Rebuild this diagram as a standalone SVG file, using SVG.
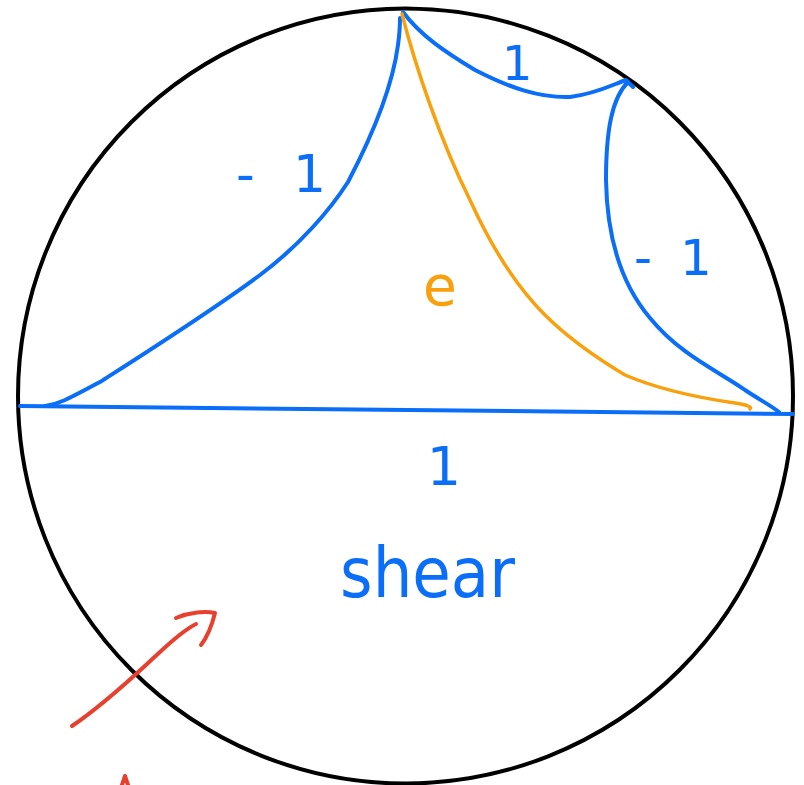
<svg xmlns="http://www.w3.org/2000/svg" width="804" height="785" viewBox="0 0 804 785">
<style>
.ink{fill:none;stroke-linecap:round;stroke-linejoin:round}
.b{stroke:#0a6ef8;stroke-width:4}
.o{stroke:#f8a10c;stroke-width:3.5}
.r{stroke:#e8402e;stroke-width:4}
.tb{fill:#0a6ef8;font-family:"DejaVu Sans",sans-serif}
.to{fill:#f8a10c;font-family:"DejaVu Sans",sans-serif}
</style>
<rect width="804" height="785" fill="#fff"/>
<g id="disk"><circle cx="405.5" cy="396" r="387.5" fill="none" stroke="#000" stroke-width="4"/></g>
<g id="connectors">
<path class="ink b" d="M20,406 L793,414"/>
<path class="ink b" d="M45,406 C60,404 70,398 100,382 C150,350 210,312 260,275 C300,245 330,210 348,182 C370,140 392,90 398,45 C400,30 400,22 400,18"/>
<path class="ink b" d="M403,12 C420,35 445,52 475,70 C510,88 540,98 570,97 C595,94 612,85 626,80 L633,87"/>
<path class="ink b" d="M628,82 C612,98 606,130 606,180 C607,240 622,285 650,318 C680,355 720,372 745,390 C760,400 770,405 779,412"/>
<path class="ink o" d="M402,14 C415,65 440,140 470,200 C495,255 520,290 545,315 C570,340 600,360 625,375 C660,390 700,398 735,403 C748,405 752,407 750,409"/>
<path class="ink r" d="M72,726 C110,700 140,670 160,652 C175,638 188,628 196,624"/>
<path class="ink r" d="M176,618 C190,612 205,611 215,613 C212,625 208,636 201,645"/>
<path class="ink r" d="M122,785 L125,776 L128,785"/>
</g>
<g id="label-top"><text class="tb" x="517" y="80" font-size="48" text-anchor="middle">1</text></g>
<g id="label-left"><text class="tb" font-size="52" y="192"><tspan x="236">-</tspan> <tspan x="293">1</tspan></text></g>
<g id="label-right"><text class="tb" font-size="50" y="275"><tspan x="634">-</tspan> <tspan x="680">1</tspan></text></g>
<g id="label-e"><text class="to" x="440" y="305" font-size="55" text-anchor="middle">e</text></g>
<g id="label-bottom"><text class="tb" x="444" y="485" font-size="54" text-anchor="middle">1</text></g>
<g id="label-shear"><text class="tb" x="340" y="597" font-size="70" textLength="175" lengthAdjust="spacingAndGlyphs">shear</text></g>
</svg>
